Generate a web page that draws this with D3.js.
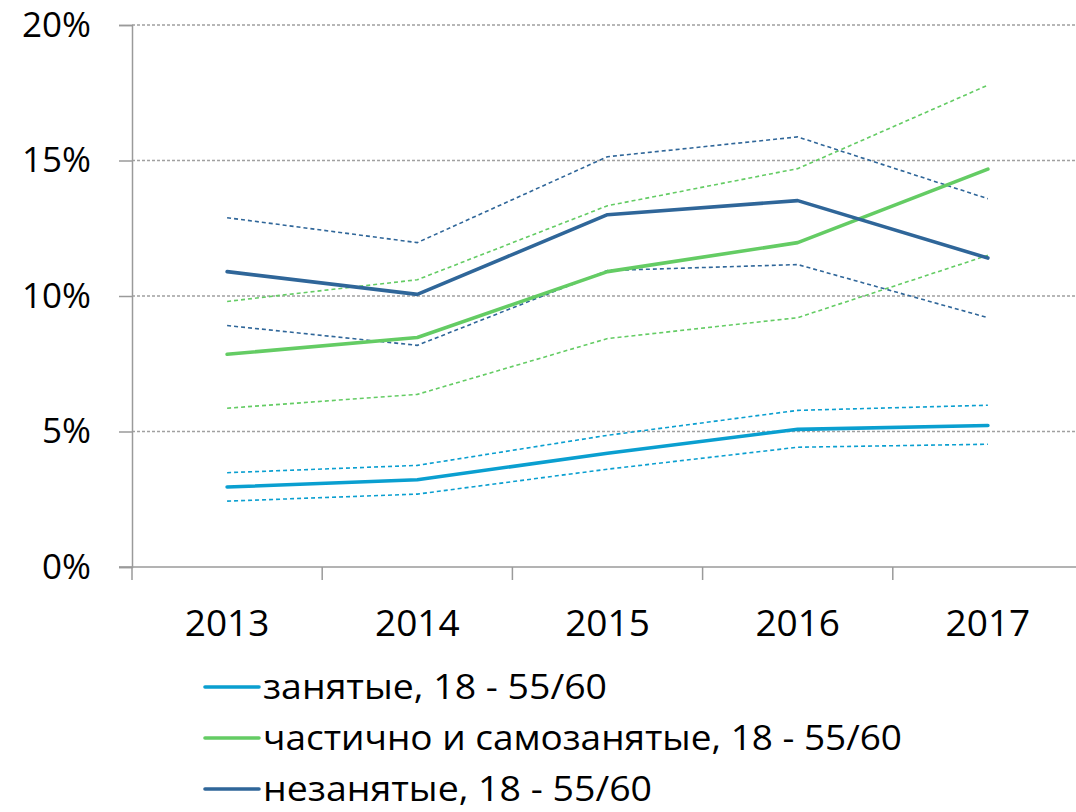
<!DOCTYPE html>
<html><head><meta charset="utf-8">
<script src="https://cdn.jsdelivr.net/npm/d3@7"></script>
<style>body{margin:0;background:#fff}svg{display:block}text{font-family:"Open Sans",sans-serif;fill:#000}</style>
</head><body>
<svg id="c" width="1076" height="812"></svg>
<script>
const years = ["2013","2014","2015","2016","2017"];
const yTicks = [0,5,10,15,20];
const seriesNames = ["занятые, 18 - 55/60","частично и самозанятые, 18 - 55/60","незанятые, 18 - 55/60"];
const employed      = [2.95, 3.22, 4.20, 5.08, 5.22];
const employedHi    = [3.48, 3.75, 4.86, 5.78, 5.97];
const employedLo    = [2.43, 2.69, 3.61, 4.42, 4.53];
const partial       = [7.85, 8.47, 10.90, 11.97, 14.68];
const partialHi     = [9.80, 10.60, 13.33, 14.70, 17.78];
const partialLo     = [5.86, 6.37, 8.43, 9.20, 11.50];
const unemployed    = [10.90, 10.06, 13.00, 13.52, 11.40];
const unemployedHi  = [12.89, 11.97, 15.14, 15.87, 13.59];
const unemployedLo  = [8.91, 8.18, 10.94, 11.16, 9.20];
const colors = ["#0a9fd0","#64cc64","#2f6699"];

(function(){
const svg = d3.select("#c");
const L=132, R=1083, T=25, B=567;
const FS = 37;
const x = d3.scaleBand().domain(years).range([L,R]);
const y = d3.scaleLinear().domain([0,20]).range([B,T]);

svg.append("g").selectAll("line").data(yTicks.filter(d=>d>0)).join("line")
  .attr("x1",L).attr("x2",1076).attr("y1",d=>y(d)).attr("y2",d=>y(d))
  .attr("stroke","#a0a0a0").attr("stroke-width",1.3).attr("stroke-dasharray","3,2");

const ya = svg.append("g").attr("transform",`translate(${L},0)`)
  .call(d3.axisLeft(y).tickValues(yTicks).tickFormat(d=>d+"%").tickSize(13).tickPadding(28));
ya.select(".domain").attr("stroke","#9a9a9a").attr("stroke-width",1.5);
ya.selectAll(".tick line").attr("stroke","#9a9a9a").attr("stroke-width",1.5);
ya.selectAll("text").attr("font-size",35).attr("font-family","'Open Sans',sans-serif").attr("fill","#000");

const xa = svg.append("g").attr("transform",`translate(0,${B})`)
  .call(d3.axisBottom(x).tickSize(0).tickPadding(43));
xa.select(".domain").attr("stroke","#9a9a9a").attr("stroke-width",1.5).attr("d",`M${L-13},0H1076`);
xa.selectAll("text").attr("font-size",FS).attr("font-family","'Open Sans',sans-serif").attr("fill","#000");
const bounds = years.map(d=>x(d));
svg.append("g").selectAll("line").data(bounds.concat([R])).join("line")
  .attr("x1",d=>d).attr("x2",d=>d).attr("y1",B).attr("y2",B+13)
  .attr("stroke","#9a9a9a").attr("stroke-width",1.5);

const cx = d=>x(d)+x.bandwidth()/2;
const line = d3.line().x((d,i)=>cx(years[i])).y(d=>y(d));
const groups = [
  [employed,employedHi,employedLo],
  [partial,partialHi,partialLo],
  [unemployed,unemployedHi,unemployedLo]
];
groups.forEach((g,k)=>{
  [g[1],g[2]].forEach(arr=>{
    svg.append("path").attr("d",line(arr)).attr("fill","none")
      .attr("stroke",colors[k]).attr("stroke-width",1.6).attr("stroke-dasharray","4,3");
  });
});
groups.forEach((g,k)=>{
  svg.append("path").attr("d",line(g[0])).attr("fill","none")
    .attr("stroke",colors[k]).attr("stroke-width",3.6).attr("stroke-linejoin","round").attr("stroke-linecap","round");
});

const lg = svg.append("g");
const legW = [344, 639, 389];
seriesNames.forEach((n,i)=>{
  const yy = 687 + i*51;
  lg.append("line").attr("x1",205).attr("x2",259).attr("y1",yy).attr("y2",yy)
    .attr("stroke",colors[i]).attr("stroke-width",3.6).attr("stroke-linecap","round");
  lg.append("text").attr("x",263).attr("y",yy+12).attr("font-size",35)
    .attr("textLength",legW[i]).attr("lengthAdjust","spacingAndGlyphs").text(n);
});
})();
</script>
</body></html>
